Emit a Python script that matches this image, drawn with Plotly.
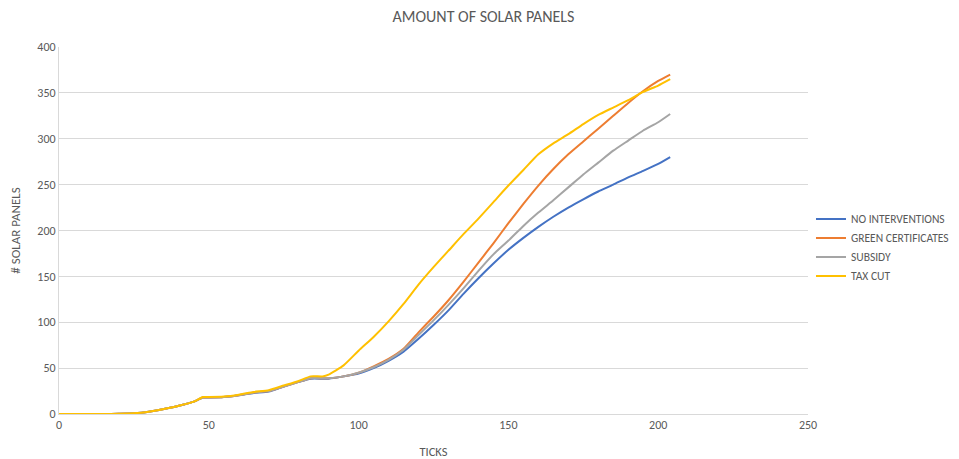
import plotly.graph_objects as go

ticks = [0, 5, 10, 15, 20, 25, 30, 35, 40, 45, 48, 50, 55, 60, 65, 70, 75, 80, 84, 88,
         90, 95, 100, 105, 110, 115, 120, 125, 130, 135, 140, 145, 150, 155, 160, 165,
         170, 175, 180, 185, 190, 195, 200, 204]

no_interventions = [0, 0, 0, 0, 0.3, 0.8, 2.5, 5.5, 9, 13.5, 18, 18, 18.5, 20.5, 23, 24.5, 30, 35, 38.5, 38.5,
                    38.5, 41, 44, 50, 58, 68, 82, 97, 113, 131, 148, 164, 179, 192, 204, 215,
                    225, 234, 242.5, 250, 258, 265, 272.5, 280]
green_certificates = [0, 0, 0, 0, 0.3, 0.8, 2.5, 5.5, 9, 13.5, 18, 18, 18.5, 20.5, 23.5, 25, 30, 35, 39, 39,
                      39, 41, 45, 52, 60, 71, 89, 106, 124, 144, 165, 186, 208, 229, 249, 267,
                      283, 297, 311, 325, 339, 352, 363, 370]
subsidy = [0, 0, 0, 0, 0.3, 0.8, 2.5, 5.5, 9, 13.5, 18, 18, 18.5, 20.5, 23.5, 25, 30, 35, 39, 39,
           39, 41, 45, 51, 59, 70, 86, 102, 119, 137, 156, 174, 189, 205, 219.5, 233,
           247, 261, 274, 287, 298, 309, 318, 327]
tax_cut = [0, 0, 0, 0, 0.3, 0.8, 2.5, 5.5, 9, 13.5, 18.5, 18.5, 19, 21, 24, 26, 31, 36, 41, 41,
           43, 53, 69, 84, 101, 120, 141, 160, 178, 196, 213, 231, 249, 266, 283, 295,
           305, 316, 326, 334, 342, 351, 358, 365]

series = [
    ("NO INTERVENTIONS", no_interventions, "#4472C4"),
    ("GREEN CERTIFICATES", green_certificates, "#ED7D31"),
    ("SUBSIDY", subsidy, "#A5A5A5"),
    ("TAX CUT", tax_cut, "#FFC000"),
]

x_tickvals = [0, 50, 100, 150, 200, 250]
y_tickvals = [0, 50, 100, 150, 200, 250, 300, 350, 400]

FONT = "Carlito, Calibri, Lato, Roboto, sans-serif"
TXT = "#595959"

fig = go.Figure()
for name, vals, color in series:
    fig.add_trace(go.Scatter(x=ticks, y=vals, name=name, mode="lines",
                             line=dict(color=color, width=2, shape="spline", smoothing=0.5)))

# the page body adds an 8px offset, so the figure is 951x451
fig.update_layout(
    width=951, height=451,
    margin=dict(l=51, r=151, t=39, b=45, autoexpand=False),
    paper_bgcolor="white", plot_bgcolor="white",
    font=dict(family=FONT, color=TXT, size=12),
    title=dict(text="AMOUNT OF SOLAR PANELS", x=0.5, xanchor="center", y=0.982, yanchor="middle",
               font=dict(family=FONT, size=16, color=TXT)),
    legend=dict(x=1.004, xanchor="left", y=0.454, yanchor="middle",
                font=dict(family=FONT, size=11.5, color=TXT), bgcolor="rgba(0,0,0,0)",
                tracegroupgap=0),
    showlegend=True,
)
fig.update_xaxes(range=[0, 250], tickvals=x_tickvals, showgrid=False, zeroline=False,
                 showline=True, linecolor="#D9D9D9", linewidth=1, ticks="", automargin=False,
                 tickfont=dict(size=12, color=TXT),
                 title=dict(text="TICKS", font=dict(size=12.5, color=TXT), standoff=15))
fig.update_yaxes(range=[0, 400], tickvals=y_tickvals, showgrid=True, gridcolor="#D9D9D9",
                 gridwidth=1, zeroline=False, showline=True, linecolor="#D9D9D9", linewidth=1,
                 ticks="", automargin=False, tickfont=dict(size=12, color=TXT),
                 title=dict(text="# SOLAR PANELS", font=dict(size=13, color=TXT), standoff=16))

fig.write_html("out.html")
